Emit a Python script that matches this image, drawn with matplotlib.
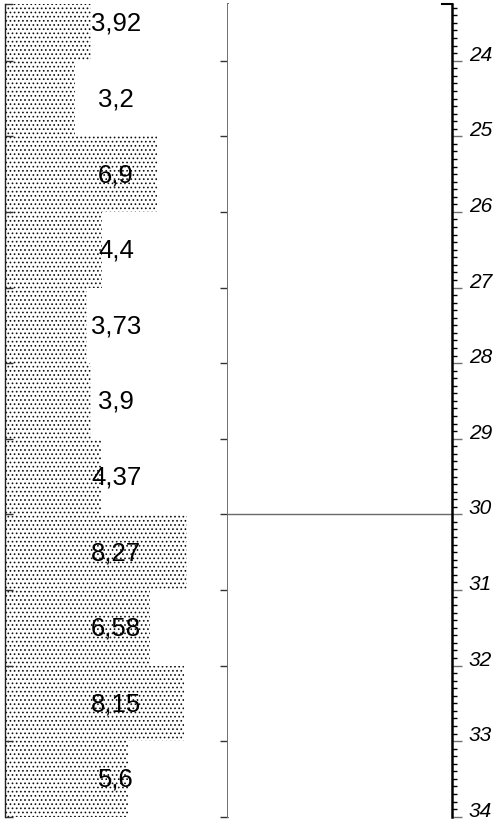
import matplotlib
matplotlib.use("Agg")
import matplotlib.pyplot as plt
import matplotlib.transforms as mtransforms
from matplotlib.ticker import MultipleLocator, FixedLocator

plt.rcParams["font.family"] = ["Liberation Sans", "DejaVu Sans"]
plt.rcParams["hatch.linewidth"] = 0.7

# Interval data: depth of top and bottom of each interval, and the measured value
depth_top = [23.0, 24, 25, 26, 27, 28, 29, 30, 31, 32, 33]
depth_bottom = [24, 25, 26, 27, 28, 29, 30, 31, 32, 33, 34]
values = [3.92, 3.2, 6.9, 4.4, 3.73, 3.9, 4.37, 8.27, 6.58, 8.15, 5.6]
value_labels = ["3,92", "3,2", "6,9", "4,4", "3,73", "3,9", "4,37", "8,27", "6,58", "8,15", "5,6"]

depth_min, depth_max = 23.25, 34.0
depth_ticks = [24, 25, 26, 27, 28, 29, 30, 31, 32, 33, 34]
marker_depth = 30

W, H, DPI = 496, 820, 100
fig = plt.figure(figsize=(W / DPI, H / DPI), dpi=DPI)

top_px, bottom_px = 5.0, 817.7
ax_h = (bottom_px - top_px) / H
ax_b = (H - bottom_px) / H

# ---- value track -------------------------------------------------------
ax = fig.add_axes([5 / W, ax_b, 223 / W, ax_h])
centers = [(t + b) / 2 for t, b in zip(depth_top, depth_bottom)]
heights = [b - t for t, b in zip(depth_top, depth_bottom)]
ax.barh(centers, values, height=heights, left=0, align="center",
        facecolor="white", edgecolor="#111111", linewidth=0, hatch="....")
for c, lab in zip(centers, value_labels):
    ax.text(5.05, c, lab, ha="center", va="center", fontsize=18.5, color="black")

ax.set_xlim(0, 223 / 22.0)
ax.set_ylim(depth_max, depth_min)
ax.set_xticks([])
ax.yaxis.set_major_locator(FixedLocator([depth_min] + depth_ticks))
ax.tick_params(axis="y", which="major", direction="in", left=True, right=True,
               labelleft=False, labelright=False, length=6, width=1,
               color="#333333")
for s in ("top", "bottom"):
    ax.spines[s].set_visible(False)
ax.spines["left"].set_color("#222222")
ax.spines["left"].set_linewidth(1.0)
ax.spines["right"].set_color("#707070")
ax.spines["right"].set_linewidth(1.4)
# the top tick belongs only to the left edge
ax.yaxis.get_major_ticks()[0].tick2line.set_visible(False)

# ---- depth track -------------------------------------------------------
ax2 = fig.add_axes([228 / W, ax_b, 224 / W, ax_h])
ax2.set_ylim(depth_max, depth_min)
ax2.set_xlim(0, 1)
ax2.set_xticks([])
for s in ("top", "bottom", "left"):
    ax2.spines[s].set_visible(False)
ax2.spines["right"].set_color("black")
ax2.spines["right"].set_linewidth(1.8)
ax2.axhline(marker_depth, color="#6a6a6a", linewidth=1.0)
ax2.axhline(depth_min, xmin=1 - 10 / 224, xmax=1, color="black", linewidth=1.5,
            clip_on=False)

ax2.yaxis.set_label_position("right")
ax2.yaxis.tick_right()
ax2.yaxis.set_major_locator(FixedLocator(depth_ticks))
ax2.yaxis.set_minor_locator(MultipleLocator(0.1))
ax2.tick_params(axis="y", which="major", direction="out", length=7.2, width=1.0,
                color="#707070", pad=5.0, labelsize=15)
ax2.tick_params(axis="y", which="minor", direction="out", length=3.6, width=1.0,
                color="black")
shift = mtransforms.ScaledTranslation(0, 6 / 72, fig.dpi_scale_trans)
for lab in ax2.get_yticklabels():
    lab.set_fontstyle("italic")
    lab.set_transform(lab.get_transform() + shift)

fig.savefig("out.png", dpi=DPI)
